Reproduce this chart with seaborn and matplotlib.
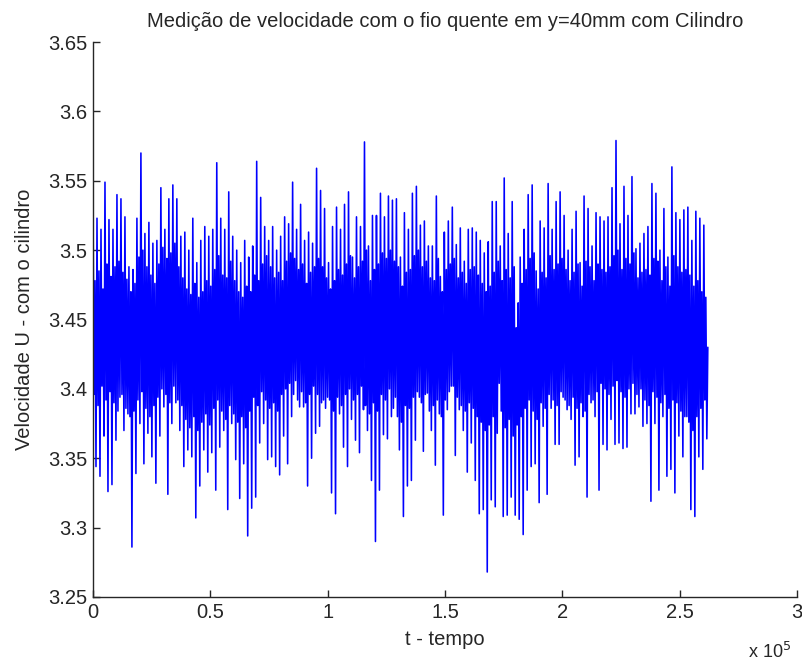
import numpy as np
import pandas as pd
import matplotlib
matplotlib.use("Agg")
import matplotlib.pyplot as plt
import seaborn as sns
from matplotlib.ticker import FuncFormatter, MultipleLocator

# Local upper excursions (outer peaks), left to right
peaks = [
    3.538, 3.523, 3.515, 3.549, 3.522, 3.515, 3.540, 3.537, 3.524, 3.488,
    3.486, 3.523, 3.570, 3.512, 3.520, 3.505, 3.507, 3.545, 3.515, 3.537,
    3.547, 3.537, 3.510, 3.513, 3.500, 3.523, 3.491, 3.507, 3.517, 3.510,
    3.515, 3.563, 3.523, 3.515, 3.542, 3.510, 3.500, 3.491, 3.507, 3.495,
    3.503, 3.564, 3.538, 3.517, 3.507, 3.517, 3.500, 3.510, 3.524, 3.519,
    3.549, 3.515, 3.533, 3.507, 3.513, 3.505, 3.559, 3.543, 3.530, 3.491,
    3.517, 3.531, 3.515, 3.533, 3.542, 3.495, 3.524, 3.517, 3.578, 3.503,
    3.525, 3.525, 3.541, 3.524, 3.539, 3.536, 3.537, 3.495, 3.527, 3.515,
    3.541, 3.546, 3.518, 3.521, 3.503, 3.503, 3.539, 3.481, 3.513, 3.521,
    3.531, 3.504, 3.516, 3.492, 3.515, 3.516, 3.513, 3.507, 3.498, 3.506,
    3.535, 3.535, 3.503, 3.552, 3.512, 3.535, 3.444, 3.495, 3.515, 3.540,
    3.547, 3.485, 3.521, 3.516, 3.548, 3.515, 3.535, 3.542, 3.525, 3.500,
    3.515, 3.528, 3.491, 3.539, 3.530, 3.503, 3.527, 3.524, 3.521, 3.524,
    3.545, 3.579, 3.519, 3.546, 3.525, 3.553, 3.501, 3.505, 3.512, 3.517,
    3.548, 3.541, 3.500, 3.530, 3.495, 3.560, 3.527, 3.522, 3.529, 3.531,
    3.507, 3.528, 3.523, 3.518,
]
# Local lower excursions (outer troughs), left to right
troughs = [
    3.344, 3.337, 3.366, 3.326, 3.331, 3.363, 3.394, 3.370, 3.382, 3.286,
    3.339, 3.375, 3.346, 3.368, 3.351, 3.332, 3.366, 3.387, 3.324, 3.375,
    3.390, 3.370, 3.344, 3.356, 3.351, 3.307, 3.330, 3.356, 3.340, 3.354,
    3.327, 3.358, 3.370, 3.313, 3.375, 3.349, 3.321, 3.346, 3.294, 3.314,
    3.322, 3.361, 3.375, 3.349, 3.351, 3.344, 3.338, 3.366, 3.346, 3.380,
    3.406, 3.387, 3.387, 3.330, 3.350, 3.368, 3.373, 3.392, 3.394, 3.325,
    3.310, 3.382, 3.358, 3.344, 3.378, 3.363, 3.354, 3.385, 3.370, 3.334,
    3.290, 3.327, 3.367, 3.364, 3.380, 3.394, 3.356, 3.308, 3.330, 3.334,
    3.363, 3.394, 3.355, 3.397, 3.370, 3.345, 3.382, 3.309, 3.385, 3.402,
    3.352, 3.385, 3.370, 3.340, 3.361, 3.334, 3.310, 3.313, 3.268, 3.320,
    3.315, 3.404, 3.308, 3.309, 3.322, 3.309, 3.306, 3.295, 3.327, 3.344,
    3.346, 3.318, 3.373, 3.324, 3.386, 3.360, 3.360, 3.394, 3.385, 3.378,
    3.345, 3.351, 3.380, 3.322, 3.390, 3.380, 3.327, 3.360, 3.356, 3.378,
    3.360, 3.361, 3.357, 3.358, 3.382, 3.382, 3.387, 3.373, 3.375, 3.319,
    3.375, 3.327, 3.380, 3.337, 3.342, 3.325, 3.366, 3.351, 3.380, 3.313,
    3.308, 3.351, 3.342, 3.364,
]
# Upper edge of the solid core band, left to right
inner_peaks = [
    3.478, 3.485, 3.472, 3.490, 3.481, 3.488, 3.492, 3.484, 3.479, 3.470,
    3.476, 3.495, 3.500, 3.488, 3.482, 3.476, 3.490, 3.502, 3.494, 3.498,
    3.505, 3.488, 3.480, 3.472, 3.468, 3.476, 3.466, 3.470, 3.478, 3.474,
    3.486, 3.496, 3.482, 3.480, 3.492, 3.478, 3.470, 3.466, 3.474, 3.470,
    3.482, 3.478, 3.490, 3.496, 3.488, 3.480, 3.484, 3.478, 3.492, 3.498,
    3.494, 3.486, 3.490, 3.476, 3.484, 3.488, 3.494, 3.488, 3.480, 3.472,
    3.478, 3.486, 3.482, 3.490, 3.496, 3.480, 3.488, 3.492, 3.500, 3.478,
    3.486, 3.490, 3.498, 3.494, 3.500, 3.492, 3.488, 3.474, 3.484, 3.486,
    3.496, 3.500, 3.488, 3.492, 3.480, 3.478, 3.494, 3.470, 3.486, 3.490,
    3.494, 3.480, 3.484, 3.476, 3.486, 3.488, 3.482, 3.476, 3.470, 3.474,
    3.484, 3.492, 3.478, 3.486, 3.480, 3.488, 3.462, 3.476, 3.486, 3.494,
    3.498, 3.472, 3.484, 3.480, 3.496, 3.486, 3.490, 3.494, 3.486, 3.478,
    3.484, 3.490, 3.474, 3.492, 3.488, 3.478, 3.490, 3.486, 3.484, 3.488,
    3.496, 3.500, 3.486, 3.494, 3.490, 3.498, 3.480, 3.484, 3.486, 3.482,
    3.494, 3.492, 3.478, 3.488, 3.474, 3.496, 3.488, 3.484, 3.486, 3.482,
    3.474, 3.478, 3.470, 3.466,
]
# Lower edge of the solid core band, left to right
inner_troughs = [
    3.396, 3.388, 3.402, 3.392, 3.398, 3.390, 3.384, 3.396, 3.386, 3.380,
    3.384, 3.392, 3.398, 3.386, 3.380, 3.388, 3.394, 3.400, 3.396, 3.390,
    3.402, 3.392, 3.388, 3.378, 3.372, 3.380, 3.370, 3.376, 3.382, 3.374,
    3.386, 3.392, 3.384, 3.378, 3.388, 3.382, 3.376, 3.380, 3.372, 3.384,
    3.394, 3.388, 3.398, 3.392, 3.386, 3.390, 3.384, 3.396, 3.400, 3.404,
    3.396, 3.392, 3.398, 3.390, 3.396, 3.402, 3.396, 3.390, 3.386, 3.392,
    3.384, 3.394, 3.388, 3.396, 3.400, 3.392, 3.396, 3.402, 3.388, 3.382,
    3.390, 3.384, 3.396, 3.392, 3.400, 3.386, 3.380, 3.376, 3.388, 3.386,
    3.394, 3.398, 3.390, 3.396, 3.384, 3.388, 3.392, 3.380, 3.392, 3.398,
    3.402, 3.394, 3.388, 3.384, 3.390, 3.386, 3.380, 3.376, 3.370, 3.374,
    3.380, 3.368, 3.384, 3.372, 3.378, 3.366, 3.374, 3.380, 3.386, 3.392,
    3.384, 3.378, 3.390, 3.386, 3.396, 3.392, 3.388, 3.398, 3.392, 3.388,
    3.394, 3.386, 3.390, 3.384, 3.396, 3.392, 3.398, 3.404, 3.400, 3.396,
    3.402, 3.406, 3.398, 3.394, 3.400, 3.404, 3.396, 3.400, 3.392, 3.388,
    3.398, 3.394, 3.390, 3.396, 3.386, 3.392, 3.390, 3.384, 3.380, 3.376,
    3.370, 3.380, 3.386, 3.392,
]
last_value = 3.43
t_end = 2.62e5

xtick_labels = ["0", "0.5", "1", "1.5", "2", "2.5", "3"]
ytick_values = [3.25, 3.3, 3.35, 3.4, 3.45, 3.5, 3.55, 3.6, 3.65]
ytick_labels = ["3.25", "3.3", "3.35", "3.4", "3.45", "3.5", "3.55", "3.6", "3.65"]

# build the signal sequence: outer peak, inner trough, inner peak, outer trough
u = []
for p, it, ip, q in zip(peaks, inner_troughs, inner_peaks, troughs):
    u.extend([p, it, ip, q])
u.append(last_value)
t = np.linspace(0, t_end, len(u))
df = pd.DataFrame({"t": t, "u": u})

sns.set_theme(style="white")
plt.rcParams["font.family"] = ["Liberation Sans", "DejaVu Sans"]

fig = plt.figure(figsize=(8.03, 6.63), dpi=100)
ax = fig.add_axes([93 / 803, 66 / 663, 704 / 803, 555 / 663])
sns.lineplot(data=df, x="t", y="u", ax=ax, color="#0000ff",
             linewidth=1.15, estimator=None, sort=False)

ax.set_xlim(0, 3e5)
ax.set_ylim(3.25, 3.65)
ax.xaxis.set_major_locator(MultipleLocator(0.5e5))
ax.xaxis.set_major_formatter(FuncFormatter(
    lambda v, _: xtick_labels[int(round(v / 0.5e5))]
    if 0 <= int(round(v / 0.5e5)) < len(xtick_labels) else ""))
ax.set_yticks(ytick_values)
ax.set_yticklabels(ytick_labels)

for s in ["top", "right"]:
    ax.spines[s].set_visible(False)
for s in ["left", "bottom"]:
    ax.spines[s].set_color("#262626")
    ax.spines[s].set_linewidth(1.0)
ax.tick_params(direction="in", length=5, width=1, color="#262626",
               labelsize=14.5, labelcolor="#262626", pad=4,
               left=True, bottom=True)

ax.set_title("Medição de velocidade com o fio quente em y=40mm com Cilindro",
             fontsize=14.5, color="#262626", pad=11)
ax.set_xlabel("t - tempo", fontsize=14.5, color="#262626", labelpad=6)
ax.set_ylabel("Velocidade U - com o cilindro", fontsize=14.5, color="#262626",
              labelpad=10)
fig.text(748 / 803, 1 - 652 / 663, "x 10$^5$", fontsize=13, color="#262626",
         ha="left", va="center")

fig.savefig("out.png", dpi=100)
